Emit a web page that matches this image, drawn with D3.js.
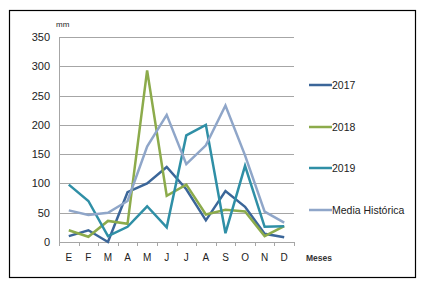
<html>
<head>
<meta charset="utf-8">
<script src="https://d3js.org/d3.v7.min.js"></script>
<style>
  body { margin: 0; background: #fff; }
  text { font-family: "Liberation Sans", Arial, sans-serif; fill: #222; }
</style>
</head>
<body>
<svg id="chart" width="425" height="285"></svg>
<script>
var months = ["E", "F", "M", "A", "M", "J", "J", "A", "S", "O", "N", "D"];
var yTicks = [0, 50, 100, 150, 200, 250, 300, 350];
var seriesNames = ["2017", "2018", "2019", "Media Histórica"];
var seriesColors = ["#3b6699", "#8cab4b", "#2f8fa6", "#8fa6c9"];

var v2017 = [10, 20, 0, 85, 100, 128, 90, 37, 87, 60, 14, 8];
var v2018 = [20, 9, 36, 31, 293, 79, 98, 47, 55, 52, 10, 27];
var v2019 = [98, 70, 10, 26, 61, 25, 182, 200, 15, 130, 26, 27];
var vMedia = [54, 46, 50, 70, 163, 217, 133, 165, 233, 148, 52, 33];

var allSeries = [v2017, v2018, v2019, vMedia];

var svg = d3.select("#chart");

// outer frame
svg.append("rect")
  .attr("x", 9.5).attr("y", 10.5)
  .attr("width", 406).attr("height", 267)
  .attr("fill", "none").attr("stroke", "#000").attr("stroke-width", 1.2);

var plotLeft = 59, plotRight = 294, plotTop = 37, plotBottom = 242;

var x = d3.scaleBand()
  .domain(d3.range(months.length))
  .range([plotLeft, plotRight]);

var y = d3.scaleLinear()
  .domain([0, 350])
  .range([plotBottom, plotTop]);

// gridlines
svg.append("g").selectAll("line")
  .data(yTicks.filter(function(d){ return d > 0; }))
  .enter().append("line")
  .attr("x1", plotLeft).attr("x2", plotRight)
  .attr("y1", function(d){ return Math.round(y(d)) + 0.5; })
  .attr("y2", function(d){ return Math.round(y(d)) + 0.5; })
  .attr("stroke", "#a6a6a6").attr("stroke-width", 1);

// y axis
var yAxis = d3.axisLeft(y).tickValues(yTicks).tickSize(0).tickPadding(9);
var gy = svg.append("g")
  .attr("transform", "translate(" + plotLeft + ",0)")
  .call(yAxis);
gy.select(".domain").attr("stroke", "#a6a6a6");
gy.selectAll("text").style("font-size", "11px");

// x axis
var xAxis = d3.axisBottom(x).tickSize(0).tickPadding(12)
  .tickFormat(function(i){ return months[i]; });
var gx = svg.append("g")
  .attr("transform", "translate(0," + plotBottom + ")")
  .call(xAxis);
gx.select(".domain").attr("stroke", "#a6a6a6");
gx.selectAll("text").style("font-size", "10px");

// tick marks between categories
svg.append("g").selectAll("line")
  .data(d3.range(months.length + 1))
  .enter().append("line")
  .attr("x1", function(i){ return Math.round(plotLeft + i * x.step()) + 0.5; })
  .attr("x2", function(i){ return Math.round(plotLeft + i * x.step()) + 0.5; })
  .attr("y1", plotBottom).attr("y2", plotBottom + 4)
  .attr("stroke", "#a6a6a6");

// lines
var line = d3.line()
  .x(function(d, i){ return x(i) + x.bandwidth() / 2; })
  .y(function(d){ return y(d); });

svg.append("g").selectAll("path")
  .data(allSeries)
  .enter().append("path")
  .attr("d", function(d){ return line(d); })
  .attr("fill", "none")
  .attr("stroke", function(d, i){ return seriesColors[i]; })
  .attr("stroke-width", 2.5)
  .attr("stroke-linejoin", "miter");

// axis titles
svg.append("text").attr("x", 56).attr("y", 27)
  .style("font-size", "8px").text("mm");
svg.append("text").attr("x", 306).attr("y", 261)
  .style("font-size", "8.5px").style("font-weight", "bold").style("fill", "#333")
  .text("Meses");

// legend
var legendY = [85, 127, 168, 210];
var lg = svg.append("g").selectAll("g")
  .data(seriesNames)
  .enter().append("g")
  .attr("transform", function(d, i){ return "translate(309," + legendY[i] + ")"; });
lg.append("line")
  .attr("x1", 0).attr("x2", 23).attr("y1", 0).attr("y2", 0)
  .attr("stroke", function(d, i){ return seriesColors[i]; })
  .attr("stroke-width", 2.5);
lg.append("text")
  .attr("x", 23).attr("y", 4)
  .style("font-size", "10.5px")
  .text(function(d){ return d; });
</script>
</body>
</html>
